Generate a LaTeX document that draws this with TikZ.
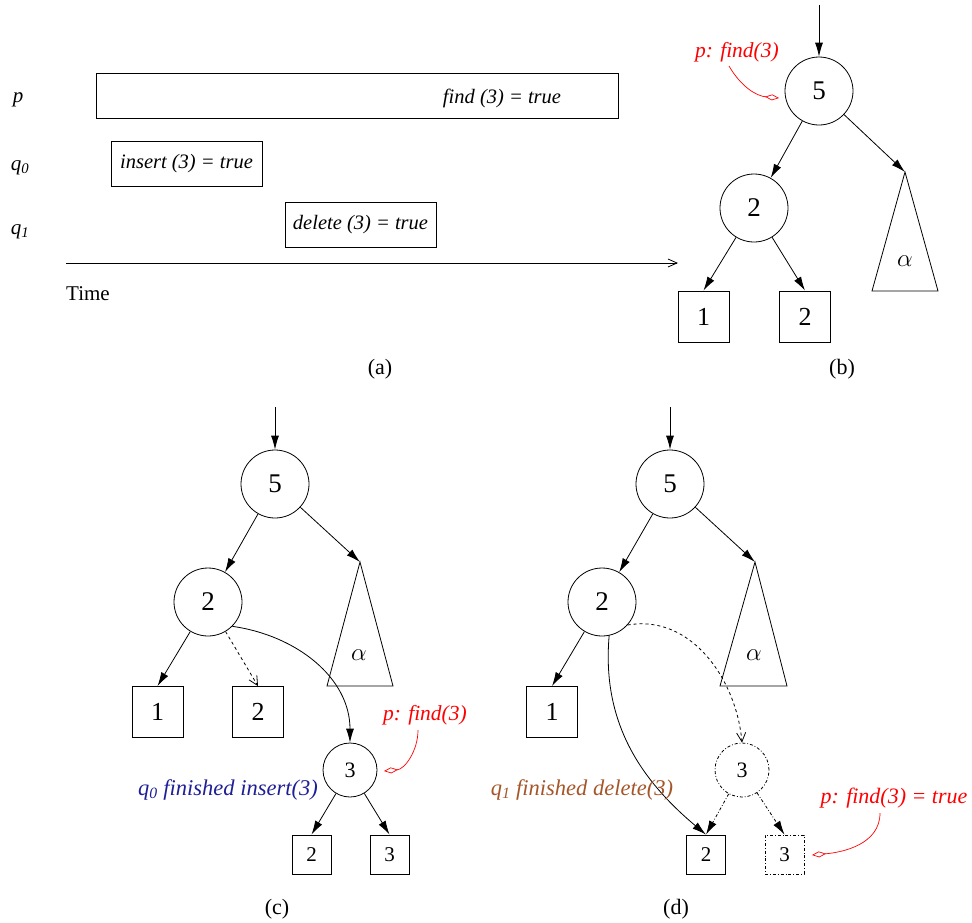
\documentclass[tikz,border=0pt]{standalone}
\usepackage{fontspec}
\setmainfont{Liberation Serif}
\usetikzlibrary{arrows.meta}
\definecolor{qblue}{RGB}{30,30,150}
\definecolor{qbrown}{RGB}{165,85,40}
\tikzset{
  every node/.style={inner sep=0pt},
  lw/.style={line width=0.8pt},
  tnode/.style={circle,draw,lw,minimum size=68pt,font=\fontsize{27}{30}\selectfont},
  snode/.style={circle,draw,lw,minimum size=54pt,font=\fontsize{22}{24}\selectfont},
  leaf/.style={draw,lw,minimum size=51pt,font=\fontsize{26}{28}\selectfont},
  sleaf/.style={draw,lw,minimum size=39pt,font=\fontsize{21}{23}\selectfont},
  opbox/.style={draw,lw,font=\fontsize{20.5}{23}\selectfont\itshape},
  edge/.style={lw,-{Latex[length=14pt,width=8pt]}},
  openedge/.style={lw,-{Straight Barb[length=9pt,width=9pt]}},
  note/.style={red,line width=0.7pt,-{Diamond[open,length=14pt,width=6pt]}},
  caption/.style={font=\fontsize{22}{24}\selectfont},
  lbl/.style={font=\fontsize{21}{23}\selectfont\itshape},
  greek/.style={font=\fontsize{30}{32}\selectfont},
  subtree/.style={draw,lw},
}
\begin{document}
\begin{tikzpicture}[x=1pt,y=-1pt]
\useasboundingbox (0,0) rectangle (972,922);

% ---------- (a) time line ----------
\node[lbl] (lp) at (18,100) {p};
\node[lbl] (lq0) at (20,168) {q\textsubscript{0}};
\node[lbl] (lq1) at (20,232) {q\textsubscript{1}};
\node[opbox,minimum width=522pt,minimum height=45pt] (bp) at (357,95.5) {};
\node[font=\fontsize{20.5}{23}\selectfont\itshape] (tp) at (502,98) {find (3) = true};
\node[opbox,minimum width=151pt,minimum height=45pt] (bq0) at (186.5,163.5) {insert (3) = true};
\node[opbox,minimum width=151pt,minimum height=45pt] (bq1) at (360.5,224.5) {delete (3) = true};
\coordinate (t0) at (66,263);
\coordinate (t1) at (678,263);
\draw[lw,-{Straight Barb[length=9pt,width=8pt]}] (t0) -- (t1);
\node[font=\fontsize{21}{23}\selectfont] (time) at (88,294) {Time};
\node[caption] (ca) at (380,369) {(a)};

% ---------- (b) ----------
\coordinate (inb) at (819,5);
\node[tnode] (b5) at (819,91) {5};
\node[tnode] (b2) at (754,208) {2};
\node[leaf] (b1l) at (703.5,316.5) {1};
\node[leaf] (b2l) at (805,316.5) {2};
\coordinate (ba) at (905,172);
\coordinate (bl) at (872,291);
\coordinate (br) at (938,291);
\draw[subtree] (ba) -- (bl) -- (br) -- cycle;
\node[greek] (balpha) at (905,261) {$\alpha$};
\draw[edge] (inb) -- (b5);
\draw[edge] (b5) -- (b2);
\draw[edge] (b5) -- (ba);
\draw[edge] (b2) -- (b1l.north);
\draw[edge] (b2) -- (b2l.north);
\node[red,font=\fontsize{21.5}{24}\selectfont\itshape] (bnote) at (737,52) {p: find(3)};
\draw[note] (729,66) to[out=-60,in=175] (779,98);
\node[caption] (cb) at (842,369) {(b)};

% ---------- (c) ----------
\coordinate (inc) at (275,407);
\node[tnode] (c5) at (275,484) {5};
\node[tnode] (c2) at (208,602) {2};
\node[leaf] (c1l) at (157.5,712) {1};
\node[leaf] (c2l) at (258,712) {2};
\coordinate (cta) at (360,562);
\coordinate (ctl) at (327,686);
\coordinate (ctr) at (393,686);
\draw[subtree] (cta) -- (ctl) -- (ctr) -- cycle;
\node[greek] (calpha) at (359,655) {$\alpha$};
\node[snode] (c3) at (350,770) {3};
\node[sleaf] (c3a) at (311.5,854.5) {2};
\node[sleaf] (c3b) at (389.5,854.5) {3};
\draw[edge] (inc) -- (c5);
\draw[edge] (c5) -- (c2);
\draw[edge] (c5) -- (cta);
\draw[edge] (c2) -- (c1l.north);
\draw[openedge,dashed] (c2) -- (c2l.north);
\draw[edge] (c2.-45) to[out=-8,in=90] (c3.north);
\draw[edge] (c3) -- (c3a.north);
\draw[edge] (c3) -- (c3b.north);
\node[red,font=\fontsize{21.5}{24}\selectfont\itshape] (cnote) at (425,715) {p: find(3)};
\draw[note] (418,730) to[out=-90,in=5] (384,771);
\node[qblue,font=\fontsize{22.5}{25}\selectfont\itshape] (cq) at (228,790) {q\textsubscript{0} finished insert(3)};
\node[caption] (cc) at (277,909) {(c)};

% ---------- (d) ----------
\coordinate (ind) at (670,407);
\node[tnode] (d5) at (670,484) {5};
\node[tnode] (d2) at (602,602) {2};
\node[leaf] (d1l) at (552,712) {1};
\coordinate (dta) at (755,562);
\coordinate (dtl) at (720,686);
\coordinate (dtr) at (787,686);
\draw[subtree] (dta) -- (dtl) -- (dtr) -- cycle;
\node[greek] (dalpha) at (754,655) {$\alpha$};
\node[snode,dash dot] (d3) at (742,770) {3};
\node[sleaf] (d3a) at (706,854.5) {2};
\node[sleaf,dash dot] (d3b) at (784.5,854.5) {3};
\draw[edge] (ind) -- (d5);
\draw[edge] (d5) -- (d2);
\draw[edge] (d5) -- (dta);
\draw[edge] (d2) -- (d1l.north);
\draw[openedge,dashed] (d2.-42) to[out=10,in=95] (d3.north);
\draw[edge] (d2.-78) to[out=-95,in=140] (d3a.north);
\draw[edge,dash dot] (d3) -- (d3a.north);
\draw[edge,dash dot] (d3) -- (d3b.north);
\node[qbrown,font=\fontsize{22.5}{25}\selectfont\itshape] (dq) at (582,790) {q\textsubscript{1} finished delete(3)};
\node[red,font=\fontsize{22}{25}\selectfont\itshape] (dnote) at (894,798) {p: find(3) = true};
\draw[note] (880,813) to[out=-90,in=5] (812,855);
\node[caption] (cd) at (676,909) {(d)};
\end{tikzpicture}
\end{document}
